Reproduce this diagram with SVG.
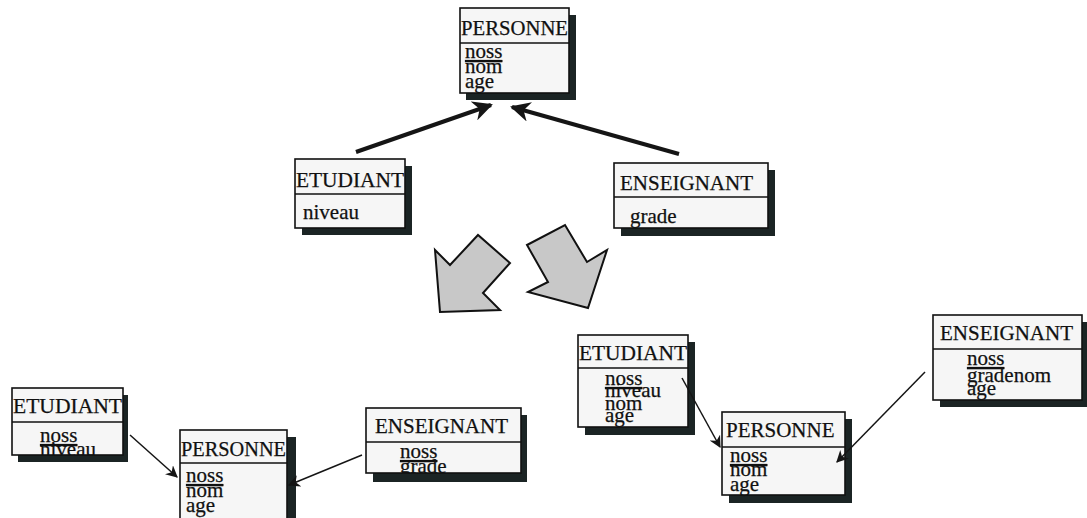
<svg xmlns="http://www.w3.org/2000/svg" width="1087" height="518" viewBox="0 0 1087 518">
<style>
.shadow{fill:#1b2424}
.box{fill:#f6f6f6;stroke:#111;stroke-width:1.6}
.sep{stroke:#111;stroke-width:1.6}
.h{font-family:"Liberation Serif","Times New Roman",serif;font-size:21px;fill:#111;stroke:#111;stroke-width:0.25}
.a{font-family:"Liberation Serif","Times New Roman",serif;font-size:21px;fill:#111;stroke:#111;stroke-width:0.25}
.u{text-decoration:underline}
.thick{stroke:#151515;stroke-width:4;fill:none}
.thin{stroke:#151515;stroke-width:1.5;fill:none}
.big{fill:#c8c8c8;stroke:#111;stroke-width:2;stroke-linejoin:miter}
</style>
<defs>
<marker id="hd" viewBox="0 0 10 10" refX="9" refY="5" markerWidth="5" markerHeight="5" orient="auto" markerUnits="strokeWidth">
<path d="M0,0 L10,5 L0,10 L3,5 z" fill="#151515"/>
</marker>
<marker id="hs" viewBox="0 0 10 10" refX="9" refY="5" markerWidth="8" markerHeight="8" orient="auto" markerUnits="strokeWidth">
<path d="M0,0 L10,5 L0,10 L3,5 z" fill="#151515"/>
</marker>
<clipPath id="c1"><rect x="12" y="422" width="111" height="33"/></clipPath>
<clipPath id="c2"><rect x="366" y="442" width="155" height="31"/></clipPath>
<clipPath id="c3"><rect x="180" y="463" width="107" height="55"/></clipPath>
</defs>

<g id="transform-arrows">
<polygon class="big" points="435,250 450,265 478,235 510,263 483,293 500,310 440,312"/>
<polygon class="big" points="527,245 565,225 587,262 607,250 588,308 528,292 548,282"/>
</g>

<g id="personne-top">
<rect class="shadow" x="466" y="15" width="110" height="85"/>
<rect class="box" x="460" y="8" width="109" height="85"/>
<line class="sep" x1="460" y1="43" x2="569" y2="43"/>
<text class="h" x="461" y="35" textLength="107" lengthAdjust="spacingAndGlyphs">PERSONNE</text>
<text class="a u" x="465" y="58">noss</text>
<text class="a" x="465" y="73">nom</text>
<text class="a" x="465" y="88">age</text>
</g>

<g id="etudiant-top">
<rect class="shadow" x="302" y="166" width="110" height="69"/>
<rect class="box" x="295" y="159" width="110" height="69"/>
<line class="sep" x1="295" y1="194" x2="405" y2="194"/>
<text class="h" x="296" y="187" textLength="108" lengthAdjust="spacingAndGlyphs">ETUDIANT</text>
<text class="a" x="303" y="219">niveau</text>
</g>

<g id="enseignant-top">
<rect class="shadow" x="621" y="170" width="154" height="66"/>
<rect class="box" x="614" y="163" width="154" height="65"/>
<line class="sep" x1="614" y1="197" x2="768" y2="197"/>
<text class="h" x="620" y="190">ENSEIGNANT</text>
<text class="a" x="630" y="223">grade</text>
</g>

<g id="etudiant-bl">
<rect class="shadow" x="18" y="395" width="110" height="67"/>
<rect class="box" x="12" y="388" width="111" height="67"/>
<line class="sep" x1="12" y1="422" x2="123" y2="422"/>
<text class="h" x="13" y="413" textLength="109" lengthAdjust="spacingAndGlyphs">ETUDIANT</text>
<g clip-path="url(#c1)">
<text class="a u" x="40" y="442">noss</text>
<text class="a" x="40" y="456">niveau</text>
</g>
</g>

<g id="personne-bl">
<rect class="shadow" x="188" y="437" width="108" height="90"/>
<rect class="box" x="180" y="430" width="107" height="95"/>
<line class="sep" x1="180" y1="463" x2="287" y2="463"/>
<text class="h" x="181" y="456" textLength="105" lengthAdjust="spacingAndGlyphs">PERSONNE</text>
<g clip-path="url(#c3)">
<text class="a u" x="186" y="482">noss</text>
<text class="a" x="186" y="497">nom</text>
<text class="a" x="186" y="512">age</text>
</g>
</g>

<g id="enseignant-bm">
<rect class="shadow" x="373" y="415" width="154" height="67"/>
<rect class="box" x="366" y="408" width="155" height="65"/>
<line class="sep" x1="366" y1="442" x2="521" y2="442"/>
<text class="h" x="375" y="433">ENSEIGNANT</text>
<g clip-path="url(#c2)">
<text class="a u" x="400" y="458">noss</text>
<text class="a" x="400" y="473">grade</text>
</g>
</g>

<g id="etudiant-br">
<rect class="shadow" x="585" y="342" width="110" height="93"/>
<rect class="box" x="578" y="335" width="110" height="92"/>
<line class="sep" x1="578" y1="368" x2="688" y2="368"/>
<text class="h" x="579" y="360" textLength="108" lengthAdjust="spacingAndGlyphs">ETUDIANT</text>
<text class="a u" x="605" y="385">noss</text>
<text class="a" x="605" y="397">niveau</text>
<text class="a" x="605" y="410">nom</text>
<text class="a" x="605" y="422">age</text>
</g>

<g id="personne-br">
<rect class="shadow" x="729" y="419" width="123" height="84"/>
<rect class="box" x="722" y="412" width="123" height="83"/>
<line class="sep" x1="722" y1="447" x2="845" y2="447"/>
<text class="h" x="726" y="437">PERSONNE</text>
<text class="a u" x="730" y="462">noss</text>
<text class="a" x="730" y="476">nom</text>
<text class="a" x="730" y="491">age</text>
</g>

<g id="enseignant-br">
<rect class="shadow" x="940" y="322" width="147" height="85"/>
<rect class="box" x="933" y="315" width="149" height="85"/>
<line class="sep" x1="933" y1="349" x2="1082" y2="349"/>
<text class="h" x="940" y="340">ENSEIGNANT</text>
<text class="a u" x="967" y="365">noss</text>
<text class="a" x="967" y="382">gradenom</text>
<text class="a" x="967" y="395">age</text>
</g>

<g id="connectors">
<line class="thick" x1="356" y1="152" x2="491" y2="105" marker-end="url(#hd)"/>
<line class="thick" x1="679" y1="154" x2="512" y2="107" marker-end="url(#hd)"/>
<line class="thin" x1="130" y1="435" x2="177" y2="477" marker-end="url(#hs)"/>
<line class="thin" x1="362" y1="455" x2="289" y2="485" marker-end="url(#hs)"/>
<line class="thin" x1="682" y1="378" x2="720" y2="447" marker-end="url(#hs)"/>
<line class="thin" x1="925" y1="372" x2="837" y2="462" marker-end="url(#hs)"/>
</g>
</svg>
